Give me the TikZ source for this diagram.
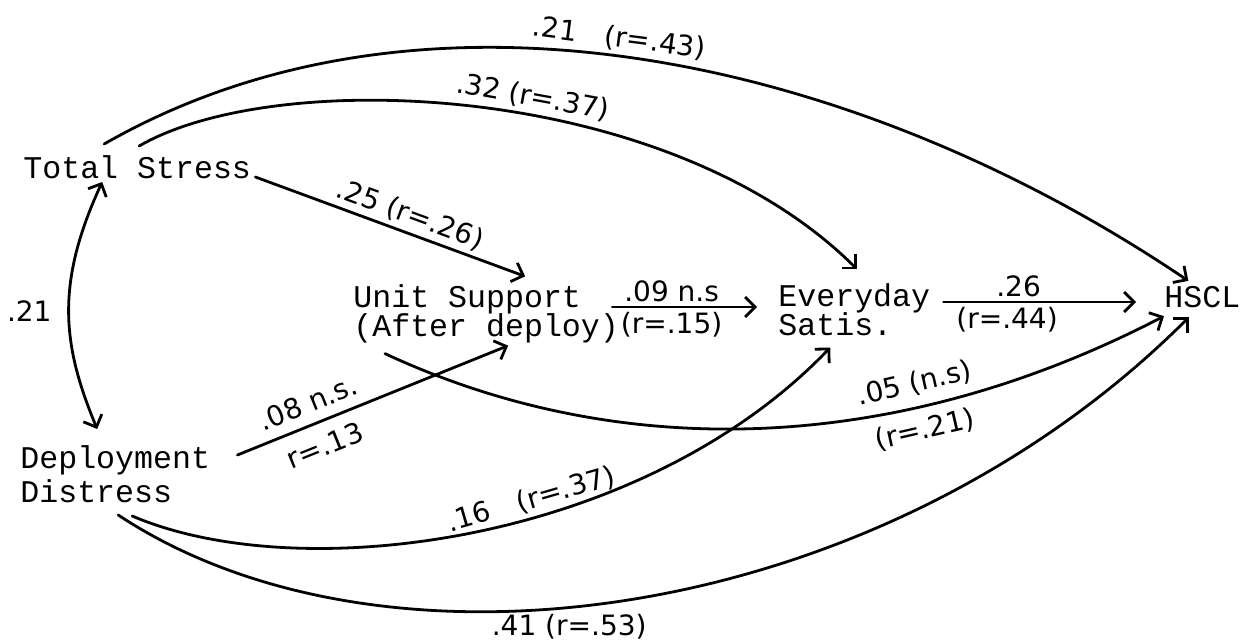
\documentclass[tikz,border=0pt]{standalone}
\usepackage{fontspec}
\setmonofont{Liberation Mono}
\newfontfamily\handfont{DejaVu Sans}
\usetikzlibrary{arrows.meta, calc}
\setlength{\lineskiplimit}{-20pt}

\tikzset{
  var/.style={font=\ttfamily\fontsize{15.8}{14.5}\selectfont, align=left, anchor=west, inner sep=2pt},
  coef/.style={font=\handfont\fontsize{14}{14}\selectfont, inner sep=2pt},
  pathline/.style={line width=1.4pt, line cap=round}
}

\begin{document}
\begin{tikzpicture}[x=0.5pt, y=-0.5pt, >={Straight Barb[length=5pt,width=10pt]}]
  \useasboundingbox (0,0) rectangle (1240,641);
  % variables
  \node[var] (ts) at (19,167) {Total Stress};
  \node[var] (us) at (349,314) {Unit Support\\(After deploy)};
  \node[var] (es) at (774,310) {Everyday\\Satis.};
  \node[var] (hs) at (1160,297) {HSCL};
  \node[var, font=\ttfamily\fontsize{15.8}{17}\selectfont] (dd) at (16,474) {Deployment\\Distress};

  % paths from total stress
  \draw[->, pathline] ($(ts.north)+(-33,-7)$) .. controls +(318,-182) and +(-336,-227) .. ($(hs.north)+(-14,-1)$)
    node[coef, pos=0.48, sloped, above] {.21\quad(r=.43)};
  \draw[->, pathline] ($(ts.north)+(2,-5)$) .. controls +(138,-80) and +(-188,-188) .. ($(es.north)+(3,-10)$)
    node[coef, pos=0.56, sloped, above] {.32 (r=.37)};
  \draw[->, pathline] ($(ts.east)+(0,10)$) -- ($(us.north)+(39,-4)$)
    node[coef, pos=0.55, sloped, above] {.25 (r=.26)};
  \draw[<->, pathline] ($(ts.south)+(-35,-1)$) .. controls +(-46,100) and +(-36,-86) .. ($(dd.north)+(-18,-12)$)
    node[coef, pos=0.5, left=6pt] {.21};

  % middle chain
  \draw[->, pathline] ($(us.east)+(-11,-7)$) -- ($(es.west)+(-17,-3)$)
    node[coef, pos=0.41, above] {.09 n.s}
    node[coef, pos=0.41, below] {(r=.15)};
  \draw[->, pathline] ($(es.east)+(9,-8)$) -- ($(hs.west)+(-24,5)$)
    node[coef, pos=0.39, above] {.26}
    node[coef, pos=0.33, below] {(r=.44)};
  \draw[->, pathline] ($(us.south west)+(36,6)$) .. controls +(232,108) and +(-272,141) .. ($(hs.south west)+(4,4)$)
    node[coef, pos=0.7, sloped, above=3pt] {.05 (n.s)}
    node[coef, pos=0.7, sloped, below=3pt] {(r=.21)};

  % paths from deployment distress
  \draw[->, pathline] ($(dd.east)+(23,-19)$) -- ($(us.south)+(22,-2)$)
    node[coef, pos=0.29, sloped, above=3pt] {.08 n.s.}
    node[coef, pos=0.29, sloped, below=4pt] {r=.13};
  \draw[->, pathline] ($(dd.south)+(17,9)$) .. controls +(168,72) and +(-188,196) .. ($(es.south)+(-24,7)$)
    node[coef, pos=0.58, sloped, above] {.16\quad(r=.37)};
  \draw[->, pathline] ($(dd.south)+(3,8)$) .. controls +(269,178) and +(-307,307) .. ($(hs.south west)+(29,5)$)
    node[coef, pos=0.44, below=1pt] {.41 (r=.53)};
\end{tikzpicture}
\end{document}
